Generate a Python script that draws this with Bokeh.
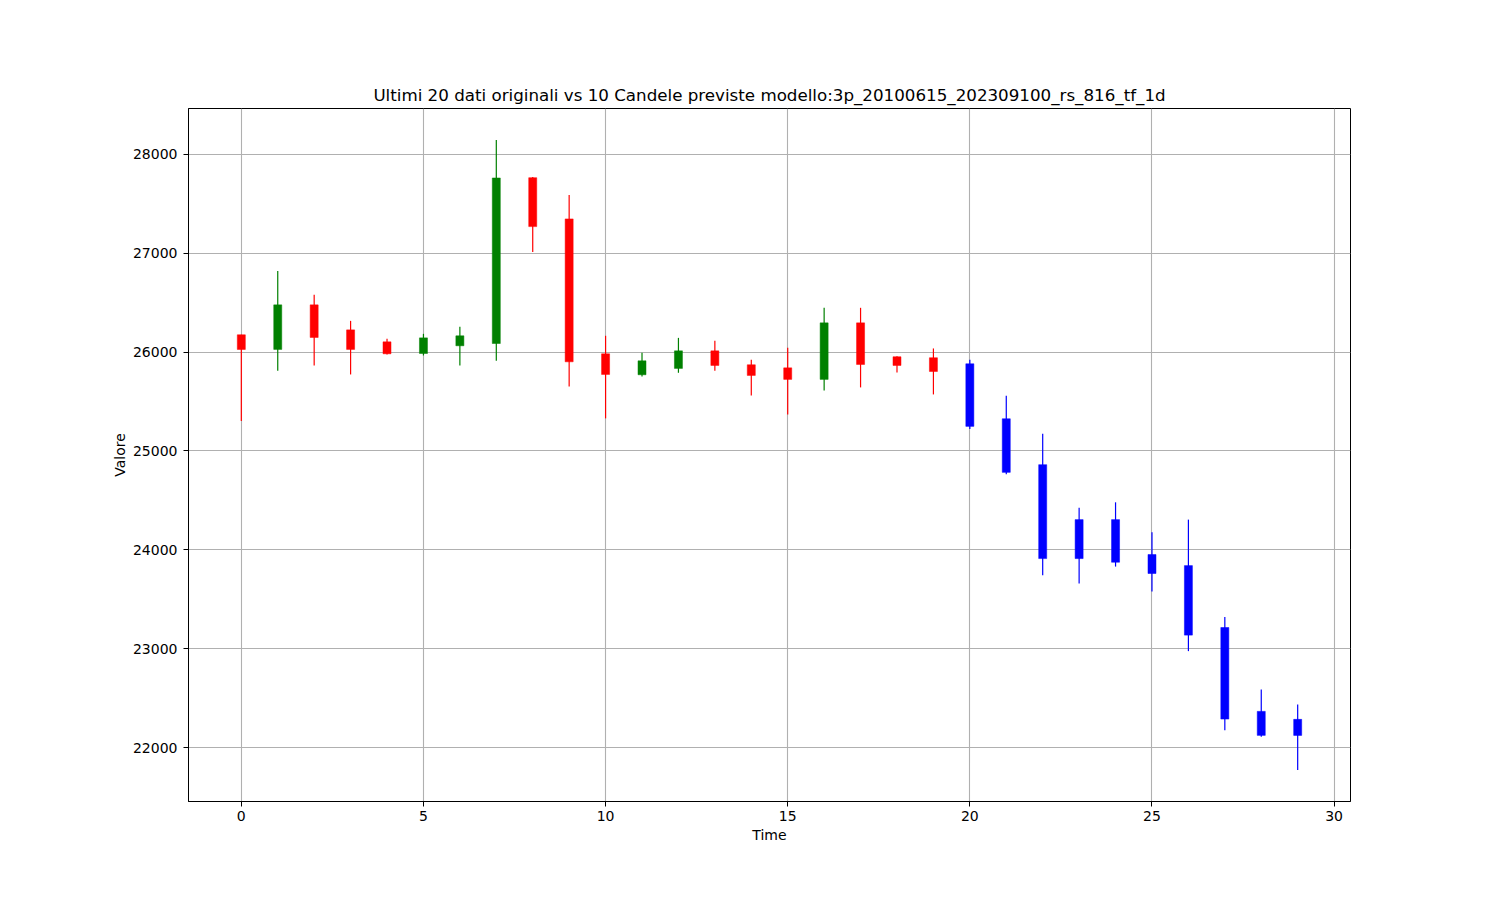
from bokeh.plotting import figure
from bokeh.models import ColumnDataSource, FixedTicker, Range1d
from bokeh.embed import file_html
from bokeh.resources import INLINE

time = list(range(30))
open_ = [26175, 26027, 26478, 26225, 26104, 25986, 26064, 26087, 27764, 27347,
         25983, 25771, 25835, 26013, 25872, 25841, 25724, 26296, 25953, 25943,
         25882, 25326, 24862, 24306, 24306, 23953, 23841, 23215, 22367, 22286]
high = [26175, 26821, 26579, 26316, 26134, 26185, 26256, 28145, 27771, 27589,
        26165, 25993, 26144, 26114, 25922, 26044, 26448, 26448, 25959, 26037,
        25922, 25559, 25175, 24427, 24481, 24178, 24306, 23320, 22589, 22437]
low = [25303, 25811, 25865, 25774, 25976, 25966, 25865, 25912, 27013, 25653,
       25330, 25754, 25791, 25811, 25562, 25370, 25612, 25643, 25794, 25572,
       25222, 24764, 23744, 23660, 23831, 23579, 22976, 22175, 22111, 21774]
close = [26027, 26478, 26148, 26027, 25983, 26144, 26165, 27761, 27269, 25902,
         25774, 25912, 26013, 25865, 25764, 25724, 26296, 25875, 25865, 25804,
         25249, 24784, 23912, 23912, 23875, 23761, 23138, 22289, 22124, 22124]
kind = ["orig"] * 20 + ["pred"] * 10

x_ticks = [0, 5, 10, 15, 20, 25, 30]
y_ticks = [22000, 23000, 24000, 25000, 26000, 27000, 28000]

colors = []
for o, c, k in zip(open_, close, kind):
    if k == "pred":
        colors.append("blue")
    elif c >= o:
        colors.append("green")
    else:
        colors.append("red")

src = ColumnDataSource(dict(
    x=time, open=open_, high=high, low=low, close=close,
    top=[max(o, c) for o, c in zip(open_, close)],
    bottom=[min(o, c) for o, c in zip(open_, close)],
    color=colors,
))

ymin, ymax = min(low), max(high)
pad = (ymax - ymin) * 0.05
xpad = (max(time) - min(time)) * 0.05

p = figure(
    frame_width=1162, frame_height=693,
    min_border_left=188, min_border_right=134,
    min_border_top=108, min_border_bottom=83,
    output_backend="svg", toolbar_location=None,
    x_range=Range1d(min(time) - xpad, max(time) + xpad),
    y_range=Range1d(ymin - pad, ymax + pad),
    title="Ultimi 20 dati originali vs 10 Candele previste modello:3p_20100615_202309100_rs_816_tf_1d",
)

p.background_fill_color = "white"
p.border_fill_color = "white"
p.outline_line_color = "black"
p.outline_line_width = 1
p.outline_line_alpha = 1

p.title.align = "center"
p.title.text_font = "DejaVu Sans"
p.title.text_font_size = "16.7px"
p.title.text_font_style = "normal"
p.title.text_color = "black"
p.title.offset = 0
p.title.standoff = 7

for ax in (p.xaxis, p.yaxis):
    ax.major_label_text_font = "DejaVu Sans"
    ax.major_label_text_font_size = "14px"
    ax.major_label_text_color = "black"
    ax.axis_label_text_font = "DejaVu Sans"
    ax.axis_label_text_font_size = "14px"
    ax.axis_label_text_font_style = "normal"
    ax.axis_label_text_color = "black"
    ax.major_tick_in = 0
    ax.major_tick_out = 5
    ax.minor_tick_in = 0
    ax.minor_tick_out = 0
    ax.axis_line_color = "black"
    ax.major_tick_line_color = "black"

p.xaxis.ticker = FixedTicker(ticks=x_ticks)
p.yaxis.ticker = FixedTicker(ticks=y_ticks)
p.xaxis.axis_label = "Time"
p.yaxis.axis_label = "Valore"
p.xaxis.major_label_standoff = 4
p.yaxis.major_label_standoff = 6
p.xaxis.axis_label_standoff = 3
p.yaxis.axis_label_standoff = 2

p.xgrid.ticker = FixedTicker(ticks=x_ticks)
p.ygrid.ticker = FixedTicker(ticks=y_ticks)
p.grid.grid_line_color = "#b0b0b0"
p.grid.grid_line_width = 1.1

p.segment(x0="x", y0="high", x1="x", y1="low", source=src, line_color="color", line_width=1.2)
p.vbar(x="x", width=0.22, top="top", bottom="bottom", source=src,
       fill_color="color", line_color="color", line_width=0.5)

open("out.html", "w").write(file_html(p, INLINE))
